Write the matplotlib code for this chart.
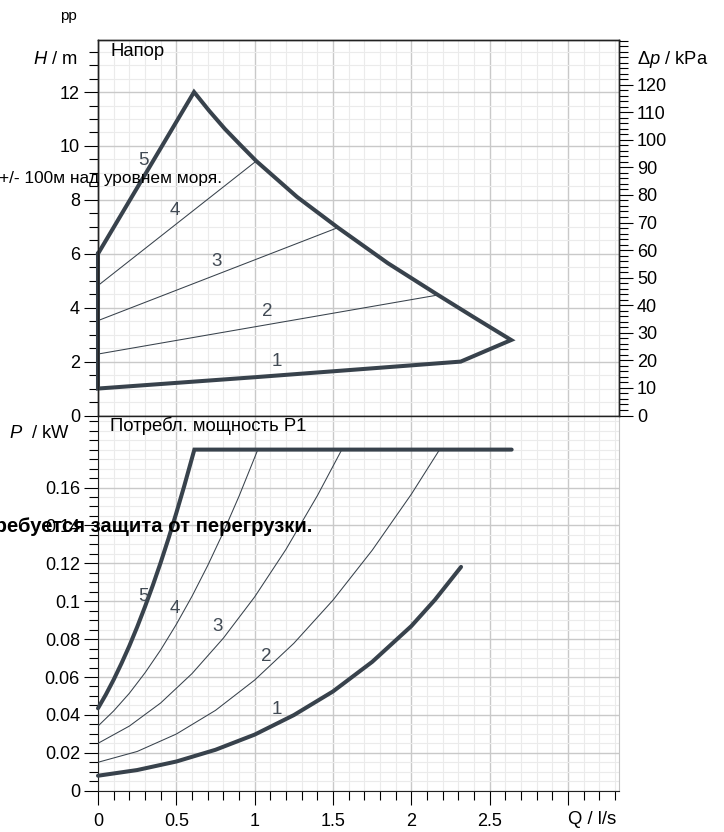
import numpy as np
import matplotlib
matplotlib.use("Agg")
import matplotlib.pyplot as plt
import matplotlib.ticker as ticker

plt.rcParams["font.family"] = ["Liberation Sans", "DejaVu Sans"]
plt.rcParams["mathtext.fontset"] = "custom"
plt.rcParams["mathtext.rm"] = "Liberation Sans"
plt.rcParams["mathtext.it"] = "Liberation Sans:italic"

# --- head (H / m) ---
# outline of the operating range: curve 5 up, max curve down, back along curve 1
q_outline = [0.0, 0.613, 0.71, 0.81, 0.91, 1.01, 1.27, 1.531, 1.85, 2.17, 2.40, 2.637,
             2.315, 2.0, 1.5, 1.0, 0.5, 0.0, 0.0]
h_outline = [6.0, 12.0, 11.30, 10.63, 10.03, 9.44, 8.11, 6.97, 5.65, 4.47, 3.64, 2.80,
             2.0, 1.86, 1.64, 1.42, 1.21, 1.0, 6.0]

q_h2 = [0.0, 2.17]
h2 = [2.28, 4.47]
q_h3 = [0.0, 1.531]
h3 = [3.52, 6.97]
q_h4 = [0.0, 1.01]
h4 = [4.82, 9.44]

h_labels = ["5", "4", "3", "2", "1"]
h_label_q = [0.288, 0.493, 0.759, 1.078, 1.14]
h_label_h = [9.47, 7.59, 5.73, 3.85, 2.0]

# --- power (P1 / kW) ---
q_p5 = [0.0, 0.05, 0.1, 0.15, 0.2, 0.25, 0.3, 0.35, 0.4, 0.45, 0.5, 0.55, 0.615, 2.64]
p5 = [0.0435, 0.0507, 0.0586, 0.0672, 0.0764, 0.0864, 0.0971, 0.1084, 0.1204,
      0.1331, 0.1466, 0.1607, 0.18, 0.18]
q_p4 = [0.0, 0.1, 0.2, 0.3, 0.4, 0.5, 0.6, 0.7, 0.8, 0.9, 1.02]
p4 = [0.0341, 0.0421, 0.0514, 0.0622, 0.0743, 0.0878, 0.1026, 0.1188, 0.1364, 0.1554, 0.18]
q_p3 = [0.0, 0.2, 0.4, 0.6, 0.8, 1.0, 1.2, 1.4, 1.556]
p3 = [0.025, 0.0341, 0.0463, 0.0618, 0.0805, 0.1023, 0.1274, 0.1557, 0.18]
q_p2 = [0.0, 0.25, 0.5, 0.75, 1.0, 1.25, 1.5, 1.75, 2.0, 2.18]
p2 = [0.015, 0.0207, 0.0299, 0.0424, 0.0584, 0.0778, 0.1006, 0.1269, 0.1565, 0.18]
q_p1 = [0.0, 0.25, 0.5, 0.75, 1.0, 1.25, 1.5, 1.75, 2.0, 2.15, 2.317]
p1 = [0.0079, 0.0109, 0.0154, 0.0216, 0.0296, 0.0399, 0.0524, 0.068, 0.0869, 0.1007, 0.1181]

p_labels = ["5", "4", "3", "2", "1"]
p_label_q = [0.289, 0.491, 0.764, 1.076, 1.14]
p_label_p = [0.1024, 0.0962, 0.0866, 0.0707, 0.043]

x_ticks = [0, 0.5, 1, 1.5, 2, 2.5]
x_ticklabels = ["0", "0.5", "1", "1.5", "2", "2.5"]
h_ticks = [0, 2, 4, 6, 8, 10, 12]
p_ticks = [0, 0.02, 0.04, 0.06, 0.08, 0.1, 0.12, 0.14, 0.16]
dp_ticks = [0, 10, 20, 30, 40, 50, 60, 70, 80, 90, 100, 110, 120]

LINE = "#38424c"
LABEL = "#414a54"
W, H = 724, 832


def px(x, y):
    return x / W, 1 - y / H


def style_grid(ax, yminor):
    ax.set_xticks(np.arange(0, 3.31, 0.5))
    ax.xaxis.set_minor_locator(ticker.MultipleLocator(0.1))
    ax.yaxis.set_minor_locator(ticker.MultipleLocator(yminor))
    ax.grid(which="major", color="#c9c9c9", lw=1.0)
    ax.grid(which="minor", color="#ebebeb", lw=0.8)
    ax.set_axisbelow(True)
    ax.tick_params(which="major", direction="out", length=10, width=0.8, labelsize=13, pad=3)
    ax.tick_params(which="minor", direction="out", length=6.5, width=0.8)


fig = plt.figure(figsize=(W / 100, H / 100), dpi=100)
left, width = 98 / W, (619 - 98) / W
ax_h = fig.add_axes([left, (H - 415.5) / H, width, 375.5 / H])
ax_p = fig.add_axes([left, (H - 790.7) / H, width, 375.2 / H])

# head plot
ax_h.set_xlim(0, 3.325)
ax_h.set_ylim(0, 13.93)
style_grid(ax_h, 0.5)
ax_h.set_yticks(h_ticks)
ax_h.set_yticklabels([str(t) for t in h_ticks])
ax_h.tick_params(axis="x", which="both", bottom=False, labelbottom=False)
for s in ax_h.spines.values():
    s.set_color("#222222")
    s.set_linewidth(1.0)

ax_h.plot(q_outline, h_outline, color=LINE, lw=2.9, solid_joinstyle="miter", clip_on=False, zorder=4)
for q, h in [(q_h2, h2), (q_h3, h3), (q_h4, h4)]:
    ax_h.plot(q, h, color=LINE, lw=0.75, zorder=3)
for t, q, h in zip(h_labels, h_label_q, h_label_h):
    ax_h.text(q, h, t, color=LABEL, fontsize=13.5, ha="center", va="center", zorder=5)

ax_dp = ax_h.twinx()
ax_dp.set_ylim(0, 136.2)
ax_dp.set_yticks(dp_ticks)
ax_dp.set_yticklabels([str(t) for t in dp_ticks])
ax_dp.yaxis.set_minor_locator(ticker.MultipleLocator(2))
ax_dp.tick_params(which="major", direction="out", length=10, width=0.8, labelsize=13, pad=3)
ax_dp.tick_params(which="minor", direction="out", length=6.5, width=0.8)
for s in ax_dp.spines.values():
    s.set_color("#222222")
    s.set_linewidth(1.0)

# power plot
ax_p.set_xlim(0, 3.325)
ax_p.set_ylim(0, 0.198)
style_grid(ax_p, 0.005)
ax_p.set_yticks(p_ticks)
ax_p.set_yticklabels(["0", "0.02", "0.04", "0.06", "0.08", "0.1", "0.12", "0.14", "0.16"])
ax_p.set_xticks(x_ticks + [3.0])
ax_p.set_xticklabels(x_ticklabels + [""])
ax_p.tick_params(axis="x", which="major", pad=6)
ax_p.spines["top"].set_visible(False)
ax_p.spines["right"].set_color("#c4c4c4")
ax_p.spines["left"].set_color("#222222")
ax_p.spines["bottom"].set_color("#222222")

ax_p.plot(q_p5, p5, color=LINE, lw=2.9, solid_joinstyle="miter", solid_capstyle="round",
          clip_on=False, zorder=4)
ax_p.plot(q_p1, p1, color=LINE, lw=2.9, solid_capstyle="round", clip_on=False, zorder=4)
for q, p in [(q_p4, p4), (q_p3, p3), (q_p2, p2)]:
    ax_p.plot(q, p, color=LINE, lw=0.75, zorder=3)
for t, q, p in zip(p_labels, p_label_q, p_label_p):
    ax_p.text(q, p, t, color=LABEL, fontsize=13.5, ha="center", va="center", zorder=5)

# texts
fig.text(*px(60, 16), "pp", fontsize=11, ha="left", va="center")
fig.text(*px(78, 60), r"$\it{H}$ / m", fontsize=13.2, ha="right", va="center")
fig.text(*px(110, 51), "Напор", fontsize=13.3, ha="left", va="center")
fig.text(*px(637, 60), r"Δ$\it{p}$ / kPa", fontsize=13.2, ha="left", va="center")
fig.text(*px(222, 178), "+/- 100м над уровнем моря.", fontsize=12.4, ha="right", va="center", zorder=6)
fig.text(*px(70, 434), r"$\it{P}$  / kW", fontsize=13.2, ha="right", va="center")
fig.text(*px(110, 426), "Потребл. мощность P1", fontsize=13.3, ha="left", va="center")
fig.text(*px(312, 527), "Требуется защита от перегрузки.", fontsize=14.6, fontweight="bold",
         ha="right", va="center", zorder=6)
fig.text(*px(568, 820), "Q / l/s", fontsize=13.3, ha="left", va="center")

fig.savefig("out.png", dpi=100)
